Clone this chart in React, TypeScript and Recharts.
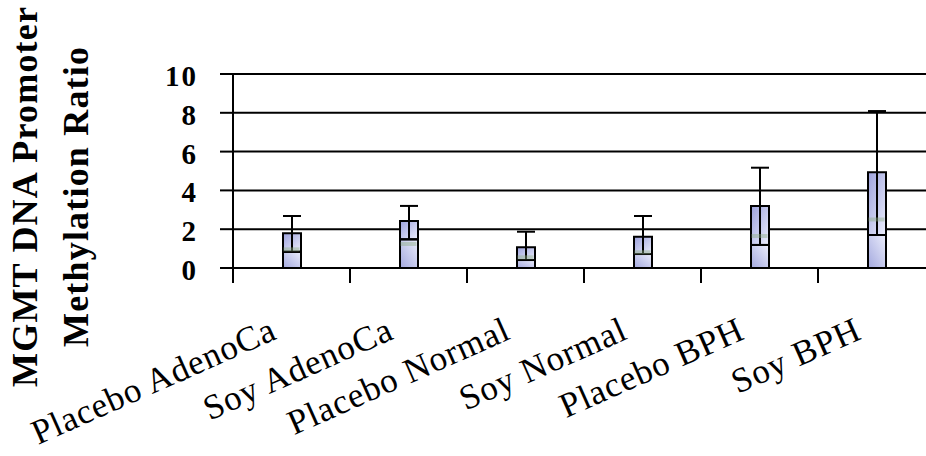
import React from 'react';
import { ComposedChart, Bar, Line, XAxis, YAxis, CartesianGrid, ErrorBar } from 'recharts';

const categories = ['Placebo AdenoCa', 'Soy AdenoCa', 'Placebo Normal', 'Soy Normal', 'Placebo BPH', 'Soy BPH'];
// box bottom part (0 -> divider), box top, whisker top, faint mean mark
const lowerValues = [0.84, 1.48, 0.41, 0.72, 1.19, 1.7];
const upperValues = [1.79, 2.42, 1.07, 1.61, 3.2, 4.93];
const whiskerValues = [2.68, 3.2, 1.87, 2.68, 5.17, 8.09];
const meanValues = [0.96, 1.24, 0.55, 0.81, 1.65, 2.5];
const yTicks = [0, 2, 4, 6, 8, 10];

const data = categories.map((name, i) => ({
  name,
  lower: lowerValues[i],
  upperSeg: upperValues[i] - lowerValues[i],
  err: [upperValues[i] - lowerValues[i], whiskerValues[i] - upperValues[i]],
  mean: meanValues[i],
}));

const CHART_W = 945;
const CHART_H = 456;
const MARGIN = { top: 74, right: 10, left: 0, bottom: 0 };
const Y_AXIS_W = 233;
const X_AXIS_H = 188;
const BAND = (CHART_W - MARGIN.left - MARGIN.right - Y_AXIS_W) / categories.length;
const FONT = '"Liberation Serif", "Times New Roman", serif';

function YTick({ x, y, payload }: any) {
  return (
    <text x={x} y={y} dy={12} textAnchor="end" fontFamily={FONT} fontSize={29} fontWeight="bold" fill="#000" letterSpacing={2}>
      {payload.value}
    </text>
  );
}

function XTick({ x, y, payload }: any) {
  const half = payload && payload.offset ? payload.offset : BAND / 2;
  const lx = x - 13;
  const ly = y + 70;
  return (
    <g>
      <line x1={x - half} y1={y} x2={x - half} y2={y + 15} stroke="#000" strokeWidth={2} />
      <text
        x={lx}
        y={ly}
        textAnchor="end"
        transform={`rotate(-24, ${lx}, ${ly})`}
        fontFamily={FONT}
        fontSize={35}
        letterSpacing={0.9}
        fill="#000"
      >
        {payload.value}
      </text>
    </g>
  );
}

function YTitle() {
  return (
    <g fontFamily={FONT} fontWeight="bold" fontSize={36} fill="#000">
      <text x={37} y={197} textAnchor="middle" transform="rotate(-90, 37, 197)" textLength={380} lengthAdjust="spacing">
        MGMT DNA Promoter
      </text>
      <text x={88} y={197} textAnchor="middle" transform="rotate(-90, 88, 197)" textLength={300} lengthAdjust="spacing">
        Methylation Ratio
      </text>
    </g>
  );
}

function MeanMark({ cx, cy }: any) {
  if (cx == null || cy == null) return null;
  return <rect x={cx - 8} y={cy - 2} width={16} height={4} fill="#8fae86" opacity={0.45} />;
}

export default function App() {
  return (
    <div style={{ position: 'fixed', left: 0, top: 0, width: 926, height: 456, overflow: 'hidden', background: '#fff' }}>
      <svg width={0} height={0} style={{ position: 'absolute' }}>
        <defs>
          <linearGradient id="upperFill" x1="0" y1="0" x2="1" y2="1">
            <stop offset="0%" stopColor="#9ca1dc" />
            <stop offset="100%" stopColor="#eceefc" />
          </linearGradient>
          <linearGradient id="lowerFill" x1="1" y1="0" x2="0" y2="1">
            <stop offset="0%" stopColor="#eceefc" />
            <stop offset="100%" stopColor="#a3a8de" />
          </linearGradient>
        </defs>
      </svg>
      <ComposedChart width={CHART_W} height={CHART_H} data={data} margin={MARGIN}>
        <CartesianGrid horizontal vertical={false} stroke="#000" strokeWidth={2} />
        <XAxis
          dataKey="name"
          height={X_AXIS_H}
          interval={0}
          tickSize={0}
          tickMargin={0}
          tickLine={false}
          axisLine={{ stroke: '#000', strokeWidth: 2 }}
          tick={<XTick />}
        />
        <YAxis
          domain={[0, 10]}
          ticks={yTicks}
          interval={0}
          width={Y_AXIS_W}
          tickSize={13}
          tickMargin={22}
          axisLine={{ stroke: '#000', strokeWidth: 2 }}
          tickLine={{ stroke: '#000', strokeWidth: 2 }}
          tick={<YTick />}
          label={<YTitle />}
        />
        <Bar dataKey="lower" stackId="box" barSize={18} fill="url(#lowerFill)" stroke="#000" strokeWidth={2} isAnimationActive={false} />
        <Bar dataKey="upperSeg" stackId="box" barSize={18} fill="url(#upperFill)" stroke="#000" strokeWidth={2} isAnimationActive={false}>
          <ErrorBar dataKey="err" direction="y" width={9} stroke="#000" strokeWidth={2} />
        </Bar>
        <Line dataKey="mean" stroke="none" dot={<MeanMark />} activeDot={false} isAnimationActive={false} />
      </ComposedChart>
    </div>
  );
}
